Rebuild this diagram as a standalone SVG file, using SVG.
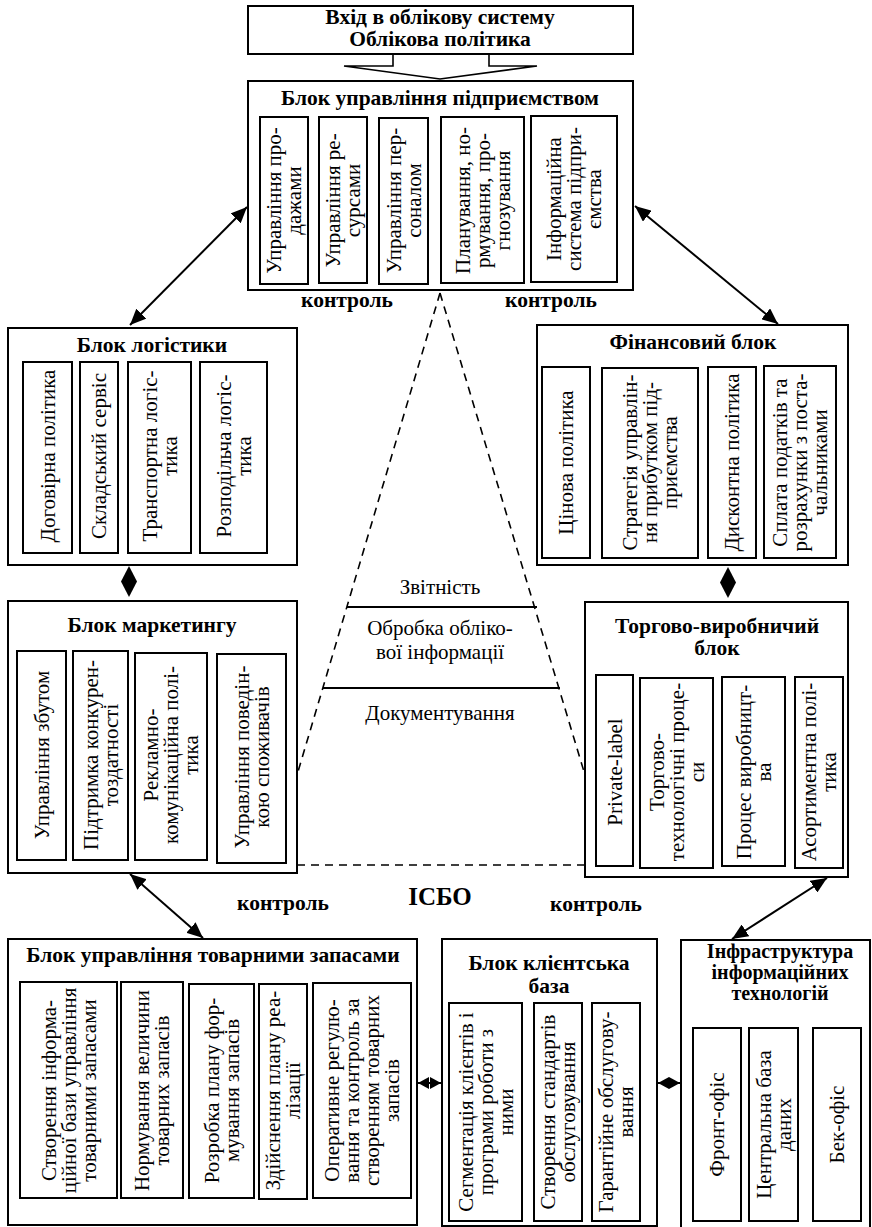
<svg xmlns="http://www.w3.org/2000/svg" width="872" height="1227" viewBox="0 0 872 1227">
<style>
.ob{fill:#fff;stroke:#000;stroke-width:2}
.ib{fill:#fff;stroke:#000;stroke-width:2}
.t{font-family:"Liberation Serif","Times New Roman",serif;font-size:21px;fill:#000;text-anchor:middle}
.b{font-weight:bold;font-size:21.5px}
.ln{stroke:#000;stroke-width:2;fill:none}
.dash{stroke:#000;stroke-width:1.6;fill:none;stroke-dasharray:8,6}
.sol{stroke:#000;stroke-width:2;fill:none}
</style>
<defs>
<marker id="ah" markerUnits="userSpaceOnUse" markerWidth="16" markerHeight="14" refX="16" refY="7" orient="auto-start-reverse"><path d="M0,0 L16,7 L0,14 z" fill="#000"/></marker>
<marker id="sh" markerUnits="userSpaceOnUse" markerWidth="11" markerHeight="12" refX="11" refY="6" orient="auto-start-reverse"><path d="M0,0 L11,6 L0,12 z" fill="#000"/></marker>
</defs>
<rect width="872" height="1227" fill="#fff"/>

<g id="connectors">
<polyline class="ln" style="stroke-width:1.6" points="393,54 393,66 344,66 440,79 537,66 489,66 489,54"/>
<line class="ln" x1="130" y1="325" x2="247" y2="207" marker-start="url(#ah)" marker-end="url(#ah)"/>
<line class="ln" x1="635" y1="206" x2="778" y2="324" marker-start="url(#ah)" marker-end="url(#ah)"/>
<line class="ln" x1="130" y1="874" x2="203" y2="938" marker-start="url(#ah)" marker-end="url(#ah)"/>
<line class="ln" x1="827" y1="878" x2="732" y2="939" marker-start="url(#ah)" marker-end="url(#ah)"/>
<polygon points="129,566 137,581.5 129,597 121,581.5" fill="#000"/>
<polygon points="728,567 736,582.5 728,598 720,582.5" fill="#000"/>
<line class="ln" x1="418" y1="1083" x2="441" y2="1083" marker-start="url(#sh)" marker-end="url(#sh)"/>
<line class="ln" x1="658" y1="1083" x2="680" y2="1083" marker-start="url(#sh)" marker-end="url(#sh)"/>
<line class="dash" x1="440" y1="293" x2="297" y2="775"/>
<line class="dash" x1="440" y1="293" x2="585" y2="775"/>
<line class="dash" x1="297" y1="865" x2="585" y2="865"/>
<line class="sol" x1="347" y1="607" x2="537" y2="607"/>
<line class="sol" x1="323" y1="688" x2="560" y2="688"/>
</g>

<g id="labels">
<text class="t b" x="347" y="307">контроль</text>
<text class="t b" x="551" y="307">контроль</text>
<text class="t b" x="283" y="910">контроль</text>
<text class="t b" x="596" y="911">контроль</text>
<text class="t b" x="440" y="905" style="font-size:25px">ІСБО</text>
<text class="t" x="440" y="594">Звітність</text>
<text class="t" x="440" y="635">Обробка обліко-</text>
<text class="t" x="440" y="659">вої інформації</text>
<text class="t" x="440" y="720">Документування</text>
</g>

<g id="input">
<rect class="ob" x="248" y="6" width="385" height="48"/>
<text class="t b" x="440" y="24">Вхід в облікову систему</text>
<text class="t b" x="440" y="46">Облікова політика</text>
</g>

<g id="management">
<rect class="ob" x="248" y="81" width="385" height="209"/>
<text class="t b" x="440" y="105">Блок управління підприємством</text>
<rect class="ib" x="260" y="117" width="48" height="167"/>
<rect class="ib" x="319" y="117" width="48" height="166"/>
<rect class="ib" x="379" y="118" width="49" height="166"/>
<rect class="ib" x="441" y="117" width="83" height="166"/>
<rect class="ib" x="531" y="116" width="86" height="166"/>
<text class="t" transform="translate(284,200.5) rotate(-90)"><tspan x="0" y="-3">Управління про-</tspan><tspan x="0" y="17">дажами</tspan></text>
<text class="t" transform="translate(343,200.5) rotate(-90)"><tspan x="0" y="-3">Управління ре-</tspan><tspan x="0" y="17">сурсами</tspan></text>
<text class="t" transform="translate(403.5,200.5) rotate(-90)"><tspan x="0" y="-3">Управління пер-</tspan><tspan x="0" y="17">соналом</tspan></text>
<text class="t" transform="translate(482.5,200.5) rotate(-90)"><tspan x="0" y="-13">Планування, но-</tspan><tspan x="0" y="7">рмування, про-</tspan><tspan x="0" y="27">гнозування</tspan></text>
<text class="t" transform="translate(574,199) rotate(-90)"><tspan x="0" y="-13">Інформаційна</tspan><tspan x="0" y="7">система підпри-</tspan><tspan x="0" y="27">ємства</tspan></text>
</g>

<g id="logistics">
<rect class="ob" x="8" y="328" width="289" height="237"/>
<text class="t b" x="152" y="352">Блок логістики</text>
<rect class="ib" x="23" y="362" width="49" height="191"/>
<rect class="ib" x="80" y="362" width="38" height="191"/>
<rect class="ib" x="128" y="362" width="63" height="191"/>
<rect class="ib" x="200" y="362" width="67" height="191"/>
<text class="t" transform="translate(47.5,456) rotate(-90)"><tspan x="0" y="7">Договірна політика</tspan></text>
<text class="t" transform="translate(99,456) rotate(-90)"><tspan x="0" y="7">Складський сервіс</tspan></text>
<text class="t" transform="translate(159.5,456) rotate(-90)"><tspan x="0" y="-3">Транспортна логіс-</tspan><tspan x="0" y="17">тика</tspan></text>
<text class="t" transform="translate(233.5,456) rotate(-90)"><tspan x="0" y="-3">Розподільча логіс-</tspan><tspan x="0" y="17">тика</tspan></text>
</g>

<g id="finance">
<rect class="ob" x="537" y="325" width="311" height="240"/>
<text class="t b" x="693" y="349">Фінансовий блок</text>
<rect class="ib" x="542" y="367" width="48" height="191"/>
<rect class="ib" x="602" y="368" width="96" height="190"/>
<rect class="ib" x="708" y="367" width="48" height="191"/>
<rect class="ib" x="764" y="366" width="72" height="192"/>
<text class="t" transform="translate(566,462.5) rotate(-90)"><tspan x="0" y="7">Цінова політика</tspan></text>
<text class="t" transform="translate(650,462.5) rotate(-90)"><tspan x="0" y="-13">Стратегія управлін-</tspan><tspan x="0" y="7">ня прибутком під-</tspan><tspan x="0" y="27">приємства</tspan></text>
<text class="t" transform="translate(732,462.5) rotate(-90)"><tspan x="0" y="7">Дисконтна політика</tspan></text>
<text class="t" transform="translate(800,462.5) rotate(-90)"><tspan x="0" y="-13">Сплата податків та</tspan><tspan x="0" y="7">розрахунки з поста-</tspan><tspan x="0" y="27">чальниками</tspan></text>
</g>

<g id="marketing">
<rect class="ob" x="8" y="601" width="289" height="272"/>
<text class="t b" x="152" y="632">Блок маркетингу</text>
<rect class="ib" x="17" y="651" width="49" height="209"/>
<rect class="ib" x="73" y="651" width="55" height="209"/>
<rect class="ib" x="135" y="653" width="72" height="207"/>
<rect class="ib" x="217" y="654" width="69" height="209"/>
<text class="t" transform="translate(41.5,755) rotate(-90)"><tspan x="0" y="7">Управління збутом</tspan></text>
<text class="t" transform="translate(100.5,755) rotate(-90)"><tspan x="0" y="-3">Підтримка конкурен-</tspan><tspan x="0" y="17">тоздатності</tspan></text>
<text class="t" transform="translate(171,755) rotate(-90)"><tspan x="0" y="-13">Рекламно-</tspan><tspan x="0" y="7">комунікаційна полі-</tspan><tspan x="0" y="27">тика</tspan></text>
<text class="t" transform="translate(251.5,757) rotate(-90)"><tspan x="0" y="-3">Управління поведін-</tspan><tspan x="0" y="17">кою споживачів</tspan></text>
</g>

<g id="trade">
<rect class="ob" x="585" y="602" width="263" height="275"/>
<text class="t b" x="717" y="633">Торгово-виробничий</text>
<text class="t b" x="717" y="655">блок</text>
<rect class="ib" x="596" y="675" width="37" height="191"/>
<rect class="ib" x="640" y="678" width="73" height="190"/>
<rect class="ib" x="722" y="677" width="63" height="189"/>
<rect class="ib" x="795" y="677" width="48" height="191"/>
<text class="t" transform="translate(614.5,772) rotate(-90)"><tspan x="0" y="7">Private-label</tspan></text>
<text class="t" transform="translate(676.5,772) rotate(-90)"><tspan x="0" y="-13">Торгово-</tspan><tspan x="0" y="7">технологічні проце-</tspan><tspan x="0" y="27">си</tspan></text>
<text class="t" transform="translate(753.5,772) rotate(-90)"><tspan x="0" y="-3">Процес виробницт-</tspan><tspan x="0" y="17">ва</tspan></text>
<text class="t" transform="translate(819,772) rotate(-90)"><tspan x="0" y="-3">Асортиментна полі-</tspan><tspan x="0" y="17">тика</tspan></text>
</g>

<g id="stock">
<rect class="ob" x="8" y="939" width="409" height="286"/>
<text class="t b" x="213" y="962">Блок управління товарними запасами</text>
<rect class="ib" x="20" y="982" width="97" height="216"/>
<rect class="ib" x="121" y="982" width="62" height="216"/>
<rect class="ib" x="189" y="984" width="65" height="214"/>
<rect class="ib" x="259" y="984" width="48" height="215"/>
<rect class="ib" x="313" y="983" width="98" height="215"/>
<text class="t" transform="translate(68.5,1090.5) rotate(-90)"><tspan x="0" y="-13">Створення інформа-</tspan><tspan x="0" y="7">ційної бази управління</tspan><tspan x="0" y="27">товарними запасами</tspan></text>
<text class="t" transform="translate(152,1090.5) rotate(-90)"><tspan x="0" y="-3">Нормування величини</tspan><tspan x="0" y="17">товарних запасів</tspan></text>
<text class="t" transform="translate(221.5,1090.5) rotate(-90)"><tspan x="0" y="-3">Розробка плану фор-</tspan><tspan x="0" y="17">мування запасів</tspan></text>
<text class="t" transform="translate(283,1090.5) rotate(-90)"><tspan x="0" y="-3">Здійснення плану реа-</tspan><tspan x="0" y="17">лізації</tspan></text>
<text class="t" transform="translate(362,1090.5) rotate(-90)"><tspan x="0" y="-23">Оперативне регулю-</tspan><tspan x="0" y="-3">вання та контроль за</tspan><tspan x="0" y="17">створенням товарних</tspan><tspan x="0" y="37">запасів</tspan></text>
</g>

<g id="clients">
<rect class="ob" x="442" y="939" width="215" height="287"/>
<text class="t b" x="549" y="970">Блок клієнтська</text>
<text class="t b" x="549" y="993">база</text>
<rect class="ib" x="449" y="1003" width="73" height="218"/>
<rect class="ib" x="534" y="1003" width="48" height="218"/>
<rect class="ib" x="592" y="1003" width="48" height="218"/>
<text class="t" transform="translate(485.5,1112) rotate(-90)"><tspan x="0" y="-13">Сегментація клієнтів і</tspan><tspan x="0" y="7">програми роботи з</tspan><tspan x="0" y="27">ними</tspan></text>
<text class="t" transform="translate(558,1112) rotate(-90)"><tspan x="0" y="-3">Створення стандартів</tspan><tspan x="0" y="17">обслуговування</tspan></text>
<text class="t" transform="translate(616,1112) rotate(-90)"><tspan x="0" y="-3">Гарантійне обслугову-</tspan><tspan x="0" y="17">вання</tspan></text>
</g>

<g id="it">
<rect class="ob" x="681" y="940" width="189" height="295"/>
<text class="t b" x="780" y="958" style="font-size:20px">Інфраструктура</text>
<text class="t b" x="780" y="979" style="font-size:20px">інформаційних</text>
<text class="t b" x="780" y="1000" style="font-size:20px">технологій</text>
<rect class="ib" x="693" y="1028" width="48" height="193"/>
<rect class="ib" x="749" y="1028" width="49" height="193"/>
<rect class="ib" x="813" y="1028" width="48" height="193"/>
<text class="t" transform="translate(717,1124.5) rotate(-90)"><tspan x="0" y="7">Фронт-офіс</tspan></text>
<text class="t" transform="translate(773.5,1124.5) rotate(-90)"><tspan x="0" y="-3">Центральна база</tspan><tspan x="0" y="17">даних</tspan></text>
<text class="t" transform="translate(837,1124.5) rotate(-90)"><tspan x="0" y="7">Бек-офіс</tspan></text>
</g>
</svg>
